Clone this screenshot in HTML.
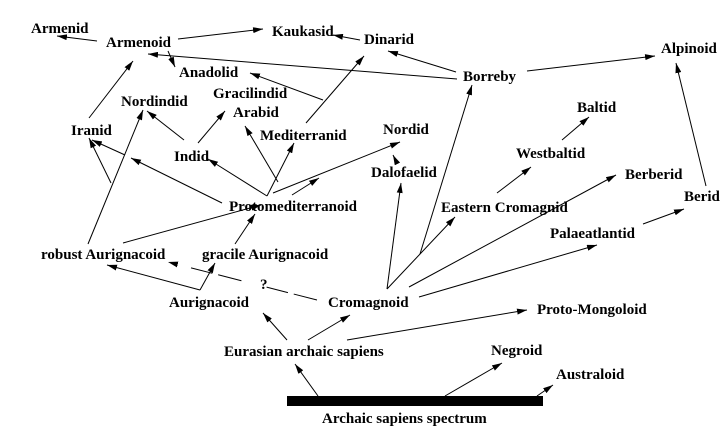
<!DOCTYPE html><html><head><style>body{margin:0;background:#fff}svg{display:block}text{font-family:"Liberation Serif",serif;font-weight:bold;font-size:15px;fill:#000}</style></head><body>
<svg width="728" height="444" viewBox="0 0 728 444">
<defs><marker id="a" markerWidth="10" markerHeight="6" refX="10" refY="3" orient="auto" markerUnits="userSpaceOnUse"><path d="M0,0L10,3L0,6z" fill="#000"/></marker></defs>
<g stroke="#000" stroke-width="1" fill="none" marker-end="url(#a)">
<line x1="97" y1="41" x2="57" y2="36"/>
<line x1="178" y1="39" x2="263" y2="29"/>
<line x1="360" y1="40" x2="333" y2="35"/>
<line x1="168" y1="51" x2="175" y2="67"/>
<line x1="457" y1="79" x2="148" y2="54"/>
<line x1="456" y1="72" x2="388" y2="51"/>
<line x1="527" y1="71" x2="655" y2="56"/>
<line x1="89" y1="118" x2="133" y2="61"/>
<line x1="306" y1="123" x2="364" y2="56"/>
<line x1="323" y1="100" x2="250" y2="73"/>
<line x1="184" y1="140" x2="147" y2="111"/>
<line x1="198" y1="143" x2="225" y2="111"/>
<line x1="267" y1="196" x2="208" y2="159"/>
<line x1="278" y1="182" x2="245" y2="126"/>
<line x1="267" y1="196" x2="294" y2="143"/>
<line x1="273" y1="193" x2="400" y2="142"/>
<line x1="292" y1="195" x2="319" y2="178"/>
<line x1="222" y1="203" x2="131" y2="158"/>
<line x1="125" y1="155" x2="92" y2="140"/>
<line x1="111" y1="183" x2="89" y2="138"/>
<line x1="88" y1="244" x2="143" y2="110"/>
<line x1="123" y1="243" x2="261" y2="205"/>
<line x1="235" y1="244" x2="255" y2="214"/>
<line x1="200" y1="290" x2="107" y2="265"/>
<line x1="200" y1="290" x2="215" y2="263"/>
<line x1="317" y1="300" x2="168" y2="262" stroke-dasharray="24,6,22,26"/>
<line x1="287" y1="340" x2="263" y2="313"/>
<line x1="308" y1="340" x2="350" y2="315"/>
<line x1="347" y1="340" x2="527" y2="310"/>
<line x1="318" y1="396" x2="295" y2="364"/>
<line x1="445" y1="396" x2="502" y2="363"/>
<line x1="537" y1="396" x2="553" y2="385"/>
<line x1="387" y1="289" x2="401" y2="183"/>
<line x1="397" y1="163" x2="393" y2="155"/>
<line x1="387" y1="289" x2="455" y2="217"/>
<line x1="420" y1="254" x2="472" y2="85"/>
<line x1="497" y1="193" x2="531" y2="167"/>
<line x1="562" y1="140" x2="589" y2="117"/>
<line x1="409" y1="287" x2="616" y2="175"/>
<line x1="419" y1="297" x2="597" y2="245"/>
<line x1="643" y1="224" x2="684" y2="209"/>
<line x1="706" y1="186" x2="676" y2="63"/>
</g>
<rect x="287" y="396" width="256" height="10" fill="#000"/>
<text x="31" y="33">Armenid</text>
<text x="106" y="47">Armenoid</text>
<text x="272" y="36">Kaukasid</text>
<text x="364" y="44">Dinarid</text>
<text x="661" y="53">Alpinoid</text>
<text x="179" y="77">Anadolid</text>
<text x="463" y="81">Borreby</text>
<text x="213" y="98">Gracilindid</text>
<text x="121" y="106">Nordindid</text>
<text x="233" y="117">Arabid</text>
<text x="577" y="112">Baltid</text>
<text x="71" y="135">Iranid</text>
<text x="260" y="140">Mediterranid</text>
<text x="383" y="134">Nordid</text>
<text x="174" y="161">Indid</text>
<text x="516" y="158">Westbaltid</text>
<text x="371" y="177">Dalofaelid</text>
<text x="625" y="179">Berberid</text>
<text x="684" y="201">Berid</text>
<text x="441" y="212">Eastern Cromagnid</text>
<text x="229" y="211">Protomediterranoid</text>
<text x="550" y="238">Palaeatlantid</text>
<text x="41" y="259">robust Aurignacoid</text>
<text x="202" y="259">gracile Aurignacoid</text>
<text x="260" y="289">?</text>
<text x="169" y="307">Aurignacoid</text>
<text x="328" y="307">Cromagnoid</text>
<text x="537" y="314">Proto-Mongoloid</text>
<text x="224" y="356">Eurasian archaic sapiens</text>
<text x="491" y="355">Negroid</text>
<text x="556" y="379">Australoid</text>
<text x="322" y="423">Archaic sapiens spectrum</text>
</svg></body></html>
